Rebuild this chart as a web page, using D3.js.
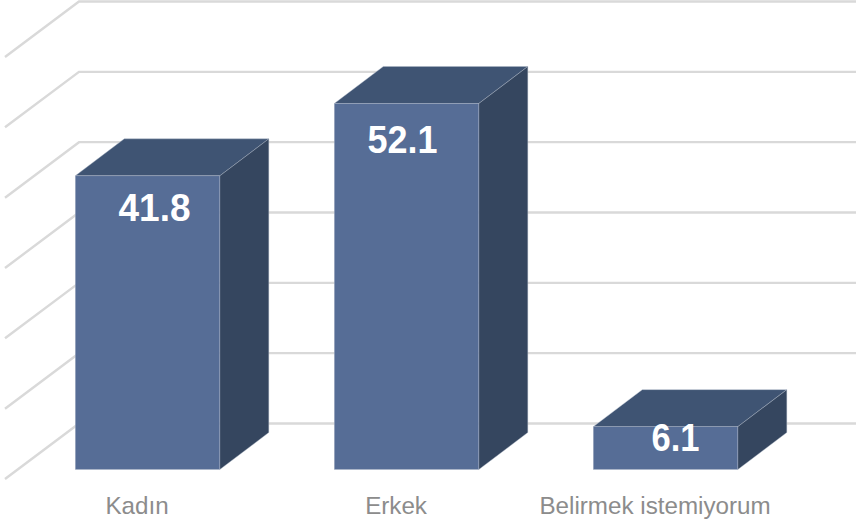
<!DOCTYPE html>
<html><head><meta charset="utf-8">
<style>html,body{margin:0;padding:0;background:#fff}svg{display:block}</style>
<script src="https://cdn.jsdelivr.net/npm/d3@7/dist/d3.min.js"></script>
</head><body><script>
const categories = ["Kadın", "Erkek", "Belirmek istemiyorum"];
const values = [41.8, 52.1, 6.1];
const valueLabels = ["41.8", "52.1", "6.1"];
const gridTicks = [0, 10, 20, 30, 40, 50, 60];

const W = 856, H = 523;
const svg = d3.select("body").append("svg").attr("width", W).attr("height", H);

const yBack = d3.scaleLinear().domain([0, 60]).range([423.5, 1.5]);
const heightScale = d3.scaleLinear().domain([0, 60]).range([0, 421.5]);
const x = d3.scaleBand().domain(categories).range([18.05, 795.05]).paddingInner(0.442).paddingOuter(0.221);

const baseY = 469.5, depthX = 49, depthY = 37, wallX0 = 5, wallX1 = 79, wallDrop = 55.5;
const labelDX = -10.5, labelY = 514;
const valueDX = [7, -4, 10], valueDY = [45, 50, 24.5], valueW = [72, 70, 48];

const grid = svg.append("g").attr("fill", "none").attr("stroke", "#d9d9d9").attr("stroke-width", 2.4);
grid.selectAll("path").data(gridTicks).join("path")
  .attr("d", t => `M${wallX0},${yBack(t) + wallDrop}L${wallX1},${yBack(t)}L${W},${yBack(t)}`);

const bars = svg.append("g").selectAll("g").data(categories).join("g");
const barTop = i => baseY - heightScale(values[i]);
const edge = "#aeb8c8";
bars.append("path").attr("fill", "#3f5473").attr("stroke", edge).attr("stroke-width", 0.4)
  .attr("d", (d, i) => { const l = x(d), r = l + x.bandwidth(), t = barTop(i);
    return `M${l},${t}L${l + depthX},${t - depthY}L${r + depthX},${t - depthY}L${r},${t}Z`; });
bars.append("path").attr("fill", "#35465f").attr("stroke", edge).attr("stroke-width", 0.4)
  .attr("d", (d, i) => { const r = x(d) + x.bandwidth(), t = barTop(i);
    return `M${r},${t}L${r + depthX},${t - depthY}L${r + depthX},${baseY - depthY}L${r},${baseY}Z`; });
bars.append("rect").attr("fill", "#566d96").attr("stroke", edge).attr("stroke-width", 0.4)
  .attr("x", d => x(d)).attr("width", x.bandwidth())
  .attr("y", (d, i) => barTop(i)).attr("height", (d, i) => heightScale(values[i]));

svg.append("g").selectAll("text").data(valueLabels).join("text")
  .attr("x", (d, i) => x(categories[i]) + x.bandwidth() / 2 + valueDX[i])
  .attr("y", (d, i) => barTop(i) + valueDY[i])
  .attr("text-anchor", "middle")
  .attr("textLength", (d, i) => valueW[i]).attr("lengthAdjust", "spacingAndGlyphs")
  .attr("font-family", "'Liberation Sans', Arial, sans-serif")
  .attr("font-weight", "bold").attr("font-size", 38).attr("fill", "#fff")
  .text(d => d);

svg.append("g").selectAll("text").data(categories).join("text")
  .attr("x", d => x(d) + x.bandwidth() / 2 + labelDX).attr("y", labelY)
  .attr("text-anchor", "middle")
  .attr("font-family", "'Liberation Sans', Arial, sans-serif")
  .attr("font-size", 24.2).attr("fill", "#8c8c8c")
  .text(d => d);
</script></body></html>
